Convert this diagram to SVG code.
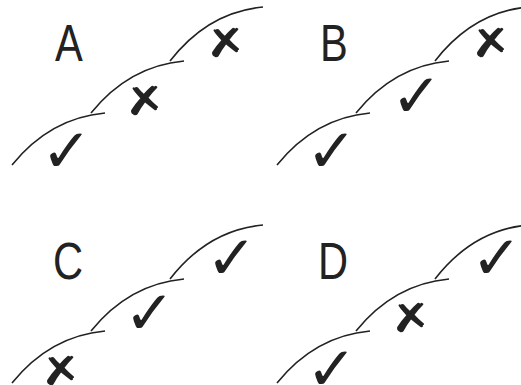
<svg xmlns="http://www.w3.org/2000/svg" width="521" height="385" viewBox="0 0 521 385">
<defs>
<style>
.arc{fill:none;stroke:#222;stroke-width:1.6}
.lbl{font-family:"Liberation Sans",sans-serif;font-size:52px;fill:#222}
.ck{font-family:"DejaVu Sans",sans-serif;font-size:61px;fill:#222}
.xx{font-family:"DejaVu Sans",sans-serif;font-size:40px;fill:#222}
</style>
<path id="a1" d="M12,165 Q50,118 105,113"/>
<path id="a2" d="M91,113 Q129,66 184,61"/>
<path id="a3" d="M170,61 Q208,12 263,7"/>
</defs>
<g id="connectors">
<g><use href="#a1" class="arc"/><use href="#a2" class="arc"/><use href="#a3" class="arc"/></g>
<g transform="translate(265,0)"><use href="#a1" class="arc"/><use href="#a2" class="arc"/><use href="#a3" class="arc"/></g>
<g transform="translate(0,218)"><use href="#a1" class="arc"/><use href="#a2" class="arc"/><use href="#a3" class="arc"/></g>
<g transform="translate(265,218)"><use href="#a1" class="arc"/><use href="#a2" class="arc"/><use href="#a3" class="arc"/></g>
</g>
<g id="A">
<text class="lbl" transform="translate(55,61) scale(0.8,1)">A</text>
<text class="ck" x="41" y="172">✓</text>
<text class="xx" transform="translate(125.3,115.4) scale(1.45,1) skewX(12)">✗</text>
<text class="xx" transform="translate(206.3,57.4) scale(1.45,1) skewX(12)">✗</text>
</g>
<g id="B">
<text class="lbl" transform="translate(320,61) scale(0.8,1)">B</text>
<text class="ck" x="306" y="172">✓</text>
<text class="ck" x="391" y="117">✓</text>
<text class="xx" transform="translate(471.3,57.4) scale(1.45,1) skewX(12)">✗</text>
</g>
<g id="C">
<text class="lbl" transform="translate(53,279) scale(0.8,1)">C</text>
<text class="xx" transform="translate(41.3,385) scale(1.45,1) skewX(12)">✗</text>
<text class="ck" x="124" y="334">✓</text>
<text class="ck" x="206" y="279">✓</text>
</g>
<g id="D">
<text class="lbl" transform="translate(318,279) scale(0.8,1)">D</text>
<text class="ck" x="306" y="390">✓</text>
<text class="xx" transform="translate(391.3,332.4) scale(1.45,1) skewX(12)">✗</text>
<text class="ck" x="471" y="279">✓</text>
</g>
</svg>
